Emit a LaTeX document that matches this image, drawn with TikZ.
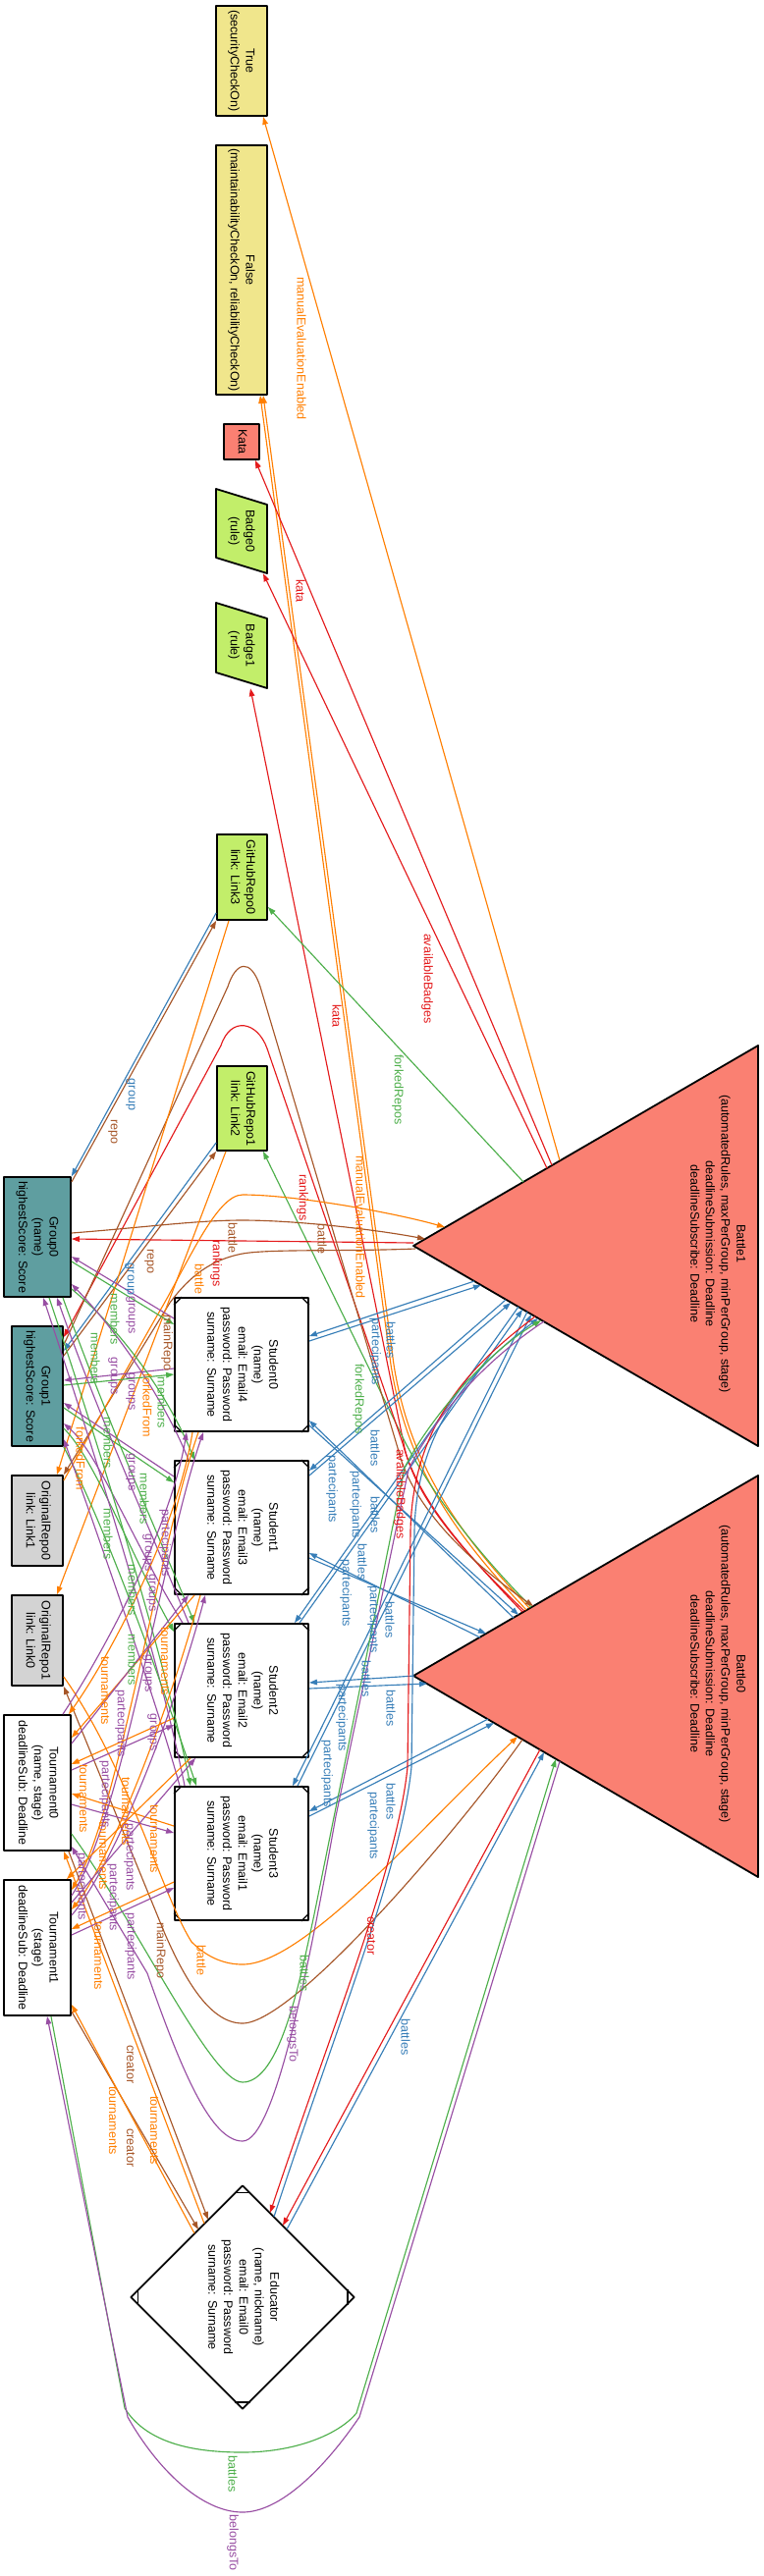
\documentclass[tikz,border=0pt]{standalone}
\usepackage{fontspec}
\setmainfont{Liberation Sans}
\usepackage{graphicx}
\usetikzlibrary{arrows.meta,shapes.geometric}
\definecolor{cR}{HTML}{E41A1C}
\definecolor{cB}{HTML}{377EB8}
\definecolor{cG}{HTML}{4DAF4A}
\definecolor{cP}{HTML}{984EA3}
\definecolor{cO}{HTML}{FF7F00}
\definecolor{cN}{HTML}{A65628}
\definecolor{cKh}{HTML}{F0E68C}
\definecolor{cSal}{HTML}{FA8072}
\definecolor{cLG}{HTML}{C2EE6A}
\definecolor{cTeal}{HTML}{5F9EA0}
\definecolor{cGr}{HTML}{D3D3D3}
\newcommand\nf{\fontsize{9.4}{11.8}\selectfont}
\newcommand\rtx[1]{\rotatebox{-90}{\begin{tabular}{@{}c@{}}#1\end{tabular}}}
\newcounter{labc}
\newcommand\elab[3]{\stepcounter{labc}\node[lbl,text=#1] (L\the\value{labc}) at (#2) {#3};}
\newcommand\msq[1]{\draw[line width=0.9pt] ([yshift=-6pt]#1.north west) -- ([xshift=6pt]#1.north west) ([xshift=-6pt]#1.north east) -- ([yshift=-6pt]#1.north east) ([yshift=6pt]#1.south west) -- ([xshift=6pt]#1.south west) ([xshift=-6pt]#1.south east) -- ([yshift=6pt]#1.south east);}
\begin{document}
\begin{tikzpicture}[x=0.75pt,y=-0.75pt,line join=round,
  nd/.style={draw=black,line width=1.35pt,inner sep=0pt,font=\nf},
  lbl/.style={rotate=-90,inner sep=0pt,font=\nf},
  tipA/.style={-{Triangle[length=6pt,width=4.2pt]}},
  eR/.style={draw=cR,line width=0.85pt,tipA},
  eB/.style={draw=cB,line width=0.85pt,tipA},
  eG/.style={draw=cG,line width=0.85pt,tipA},
  eP/.style={draw=cP,line width=0.85pt,tipA},
  eO/.style={draw=cO,line width=0.85pt,tipA},
  eN/.style={draw=cN,line width=0.85pt,tipA}]
\fill[white] (0,0) rectangle (778,2624);
\useasboundingbox (0,0) rectangle (778,2624);
% ---------- nodes
\node[nd,fill=cKh,minimum width=39pt,minimum height=84pt] (tru) at (246,62) {\rtx{True\\(securityCheckOn)}};
\node[nd,fill=cKh,minimum width=39pt,minimum height=190.5pt] (fal) at (246,275) {\rtx{False\\(maintainabilityCheckOn, reliabilityCheckOn)}};
\node[nd,fill=cSal,minimum width=27pt,minimum height=27pt] (kata) at (246,450) {\rtx{Kata}};
\filldraw[fill=cLG,draw=black,line width=1.35pt] (220,498) -- (272,514) -- (272,584) -- (220,568) -- cycle;
\node[inner sep=0pt,font=\nf,minimum width=39pt,minimum height=64.5pt] (bd0) at (246,541) {\rtx{Badge0\\(rule)}};
\filldraw[fill=cLG,draw=black,line width=1.35pt] (220,614) -- (272,630) -- (272,701) -- (220,685) -- cycle;
\node[inner sep=0pt,font=\nf,minimum width=39pt,minimum height=65.25pt] (bd1) at (246,657.5) {\rtx{Badge1\\(rule)}};
\node[nd,fill=cLG,minimum width=38.25pt,minimum height=65.25pt] (gh0) at (246.5,893.5) {\rtx{GitHubRepo0\\link: Link3}};
\node[nd,fill=cLG,minimum width=38.25pt,minimum height=64.5pt] (gh1) at (246.5,1129) {\rtx{GitHubRepo1\\link: Link2}};
\node[nd,fill=cTeal,minimum width=51pt,minimum height=91.5pt] (g0) at (38,1260) {\rtx{Group0\\(name)\\highestScore: Score}};
\node[nd,fill=cTeal,minimum width=39pt,minimum height=91.5pt] (g1) at (38,1412) {\rtx{Group1\\highestScore: Score}};
\node[nd,fill=white,minimum width=102pt,minimum height=102pt] (s0) at (246,1390) {\rtx{Student0\\(name)\\email: Email4\\password: Password\\surname: Surname}};
\node[nd,fill=white,minimum width=102pt,minimum height=102pt] (s1) at (246,1556) {\rtx{Student1\\(name)\\email: Email3\\password: Password\\surname: Surname}};
\node[nd,fill=white,minimum width=102pt,minimum height=102pt] (s2) at (246,1722) {\rtx{Student2\\(name)\\email: Email2\\password: Password\\surname: Surname}};
\node[nd,fill=white,minimum width=102pt,minimum height=102pt] (s3) at (246,1888) {\rtx{Student3\\(name)\\email: Email1\\password: Password\\surname: Surname}};
\msq{s0}\msq{s1}\msq{s2}\msq{s3}
\node[nd,fill=cGr,minimum width=39pt,minimum height=69pt] (or0) at (38,1549) {\rtx{OriginalRepo0\\link: Link1}};
\node[nd,fill=cGr,minimum width=39pt,minimum height=69pt] (or1) at (38,1671) {\rtx{OriginalRepo1\\link: Link0}};
\node[nd,fill=white,minimum width=51pt,minimum height=103.5pt] (t0) at (38,1816) {\rtx{Tournament0\\(name, stage)\\deadlineSub: Deadline}};
\node[nd,fill=white,minimum width=51pt,minimum height=103.5pt] (t1) at (38,1984) {\rtx{Tournament1\\(stage)\\deadlineSub: Deadline}};
\node[nd,diamond,fill=white,minimum width=171pt,minimum height=171pt] (edu) at (247,2340) {\rtx{Educator\\(name, nickname)\\email: Email0\\password: Password\\surname: Surname}};
\draw[line width=0.9pt] ([xshift=-6pt,yshift=-6pt]edu.north) -- ([xshift=6pt,yshift=-6pt]edu.north)
  ([xshift=-6pt,yshift=6pt]edu.south) -- ([xshift=6pt,yshift=6pt]edu.south)
  ([xshift=6pt,yshift=-6pt]edu.west) -- ([xshift=6pt,yshift=6pt]edu.west)
  ([xshift=-6pt,yshift=-6pt]edu.east) -- ([xshift=-6pt,yshift=6pt]edu.east);
\filldraw[fill=cSal,draw=black,line width=1.35pt] (421,1269) -- (772,1065) -- (772,1473) -- cycle;
\node[inner sep=0pt,font=\nf] (b1) at (730,1267) {\rtx{Battle1\\(automatedRules, maxPerGroup, minPerGroup, stage)\\deadlineSubmission: Deadline\\deadlineSubscribe: Deadline}};
\filldraw[fill=cSal,draw=black,line width=1.35pt] (421,1707) -- (772,1503) -- (772,1912) -- cycle;
\node[inner sep=0pt,font=\nf] (b0) at (730,1705) {\rtx{Battle0\\(automatedRules, maxPerGroup, minPerGroup, stage)\\deadlineSubmission: Deadline\\deadlineSubscribe: Deadline}};
% ---------- attach points on triangles and diamond
\foreach \n/\x/\y in {b1tA/570/1182, b1kA/562/1187, b1bA/557/1190, b1gA/533/1204, b1oA/453/1250, b1nA/433/1262, b1r/421/1266, b1m/423/1272,
 b1s0a/483/1305, b1s0b/490/1309, b1s1a/515/1324, b1s1b/520/1327, b1s2a/528/1331, b1s2b/532/1334, b1s3a/537/1336, b1s3b/541/1339,
 b1ea/545/1341, b1eb/548/1343, b1ta/551/1345, b1tb/554/1346,
 b0r/532/1642, b0k/534/1641, b0f1/536/1640, b0f2/539/1638, b0g/541/1637, b0n/543/1636,
 b0s0a/523/1648, b0s0b/528/1645, b0s1a/489/1668, b0s1b/495/1664, b0s2a/422/1707, b0s2b/435/1715, b0s3a/497/1751, b0s3b/503/1755,
 b0oL/527/1769, b0nL/532/1772, b0ea/550/1782, b0eb/554/1785, b0ta/566/1792, b0tb/570/1794,
 e275/275/2254, e279/279/2258, e288/288/2267, e292/292/2271, u212/212/2261, u208/208/2265, u202/202/2271, u198/198/2275}
 {\coordinate (\n) at (\x,\y);}
% ---------- top edges
\draw[eO] (b1tA) -- (tru.south -| 268,0);
\draw[eO] (b0f1) .. controls (470,1570) and (415,1500) .. (398,1390) -- (fal.south -| 265,0);
\draw[eO] (b0f2) .. controls (473,1568) and (418,1498) .. (401,1390) -- (fal.south -| 268,0);
\draw[eR] (b1kA) -- (kata.south -| 260,0);
\draw[eR] (b1bA) -- (bd0.south -| 268,0);
\draw[eR] (b0k) .. controls (465,1575) and (420,1520) .. (411,1470) -- (bd1.south -| 255,0);
\draw[eG] (b1gA) -- (gh0.east |- 0,924);
\draw[eG] (b0g) .. controls (480,1575) and (440,1520) .. (413,1470) -- (gh1.south -| 268,0);
\draw[eB] (gh0.west |- 0,930) -- (g0.north east);
\draw[eN] (g0.east |- 0,1204) -- (gh0.south west);
\draw[eB] (gh1.west |- 0,1164) -- (g1.east |- 0,1376);
\draw[eN] (g1.east |- 0,1381) -- (gh1.south west);
\draw[eR] (b1r) -- (g0.east |- 0,1262);
\draw[eR] (b0r) .. controls (465,1572) and (425,1525) .. (410,1470) -- (272,1068) .. controls (262,1040) and (235,1035) .. (225,1065) -- (g1.east |- 0,1362);
\draw[eN] (g1.east |- 0,1370) -- (232,1005) .. controls (240,980) and (255,975) .. (265,1005) -- (405,1475) .. controls (418,1530) and (470,1585) .. (b0n);
\draw[eN] (g0.east |- 0,1256) .. controls (150,1250) and (200,1243) .. (247,1243) .. controls (300,1243) and (380,1252) .. (b1nA);
\draw[eN] (b1m) .. controls (350,1275) and (275,1272) .. (247,1277) .. controls (215,1283) and (193,1300) .. (173,1327) -- (or0.north east);
\draw[eO] (or0.east |- 0,1508) -- (160,1340) .. controls (190,1290) and (220,1217) .. (247,1217) .. controls (300,1217) and (400,1235) .. (b1oA);
\draw[eO] (or1.east |- 0,1708) .. controls (130,1800) and (165,1930) .. (195,1978) .. controls (212,1995) and (230,2001) .. (247,2001) .. controls (310,2001) and (430,1860) .. (b0oL);
\draw[eN] (b0nL) .. controls (470,1860) and (300,2061) .. (247,2061) .. controls (215,2061) and (190,2020) .. (168,1970) -- (or1.south east);
\draw[eO] (gh0.south -| 233,0) -- (or0.north -| 58,0);
\draw[eO] (gh1.south -| 230,0) -- (or1.north -| 58,0);
% ---------- student - battle
\draw[eB] (s0.east |- 0,1366) -- (b1s0b);
\draw[eB] (b1s0a) -- (s0.east |- 0,1361);
\draw[eB] (s1.east |- 0,1503) -- (b1s1b);
\draw[eB] (b1s1a) -- (s1.east |- 0,1498);
\draw[eB] (s2.north -| 305,0) -- (b1s2b);
\draw[eB] (b1s2a) -- (s2.north -| 300,0);
\draw[eB] (s3.north -| 303,0) -- (b1s3b);
\draw[eB] (b1s3a) -- (s3.north -| 298,0);
\draw[eB] (s0.east |- 0,1452) -- (b0s0b);
\draw[eB] (b0s0a) -- (s0.east |- 0,1447);
\draw[eB] (s1.east |- 0,1587) -- (b0s1b);
\draw[eB] (b0s1a) -- (s1.east |- 0,1582);
\draw[eB] (s2.east |- 0,1720) -- (b0s2b);
\draw[eB] (b0s2a) -- (s2.east |- 0,1714);
\draw[eB] (s3.east |- 0,1850) -- (b0s3b);
\draw[eB] (b0s3a) -- (s3.east |- 0,1845);
% ---------- educator - battle
\draw[eR] (b0ea) -- (e288);
\draw[eB] (e292) -- (b0eb);
\draw[eR] (b1ea) .. controls (480,1390) and (420,1450) .. (418,1560) -- (415,1800) .. controls (405,1900) and (340,2060) .. (e275);
\draw[eB] (e279) .. controls (344,2060) and (409,1900) .. (419,1800) -- (422,1560) .. controls (424,1452) and (484,1392) .. (b1eb);
% ---------- tournament - battle
\draw[eG] (t0.east |- 0,1868) .. controls (140,1960) and (215,2121) .. (247,2121) .. controls (285,2121) and (305,2020) .. (320,1950) -- (412,1495) .. controls (440,1440) and (500,1375) .. (b1ta);
\draw[eP] (b1tb) .. controls (495,1385) and (443,1442) .. (416,1497) -- (342,1850) .. controls (315,2000) and (280,2181) .. (247,2181) .. controls (215,2181) and (185,2110) .. (150,2010) -- (t0.east |- 0,1881);
\draw[eG] (t1.south -| 52,0) -- (127,2453) .. controls (150,2490) and (200,2498) .. (247,2498) .. controls (300,2498) and (345,2480) .. (363,2458) -- (b0ta);
\draw[eP] (b0tb) -- (366,2462) .. controls (330,2515) and (285,2559) .. (247,2559) .. controls (205,2559) and (160,2515) .. (130,2462) -- (t1.south -| 48,0);
% ---------- tournament - educator
\draw[eN] (t0.south -| 70,0) -- (u212);
\draw[eO] (u208) -- (t0.south -| 65,0);
\draw[eN] (t1.east |- 0,2049) -- (u202);
\draw[eO] (u198) -- (t1.east |- 0,2042);
% ---------- group - student
\draw[eG] (g0.east |- 0,1285) -- (s0.west |- 0,1349);
\draw[eP] (s0.west |- 0,1343) -- (g0.east |- 0,1280);
\draw[eP] (s0.west |- 0,1394) -- (g1.east |- 0,1406);
\draw[eG] (g1.east |- 0,1411) -- (s0.west |- 0,1400);
\draw[eG] (g0.east |- 0,1313) .. controls (130,1360) and (175,1430) .. (s1.north -| 198,0);
\draw[eP] (s1.north -| 192,0) .. controls (170,1432) and (125,1362) .. (g0.east |- 0,1308);
\draw[eP] (s1.west |- 0,1504) -- (g1.east |- 0,1429);
\draw[eG] (g1.east |- 0,1434) -- (s1.west |- 0,1510);
\draw[eG] (g0.south -| 64,0) .. controls (110,1450) and (160,1560) .. (s2.north -| 198,0);
\draw[eP] (s2.north -| 192,0) .. controls (155,1562) and (104,1452) .. (g0.south -| 58,0);
\draw[eP] (s2.north -| 186,0) .. controls (140,1580) and (100,1480) .. (g1.east |- 0,1450);
\draw[eG] (g1.east |- 0,1455) .. controls (96,1485) and (134,1585) .. (s2.west |- 0,1662);
\draw[eG] (g0.south -| 50,0) .. controls (110,1500) and (170,1700) .. (s3.north -| 194,0);
\draw[eP] (s3.north -| 188,0) .. controls (165,1702) and (104,1502) .. (g0.south -| 44,0);
\draw[eG] (g1.south east) .. controls (110,1560) and (170,1730) .. (s3.north -| 200,0);
\draw[eP] (s3.north -| 183,0) .. controls (160,1735) and (100,1565) .. (g1.east |- 0,1466);
% ---------- student - tournament
\draw[eO] (s0.south -| 196,0) .. controls (180,1560) and (110,1690) .. (t0.north -| 70,0);
\draw[eP] (t0.north -| 64,0) .. controls (104,1686) and (174,1556) .. (s0.south -| 190,0);
\draw[eO] (s1.south -| 198,0) -- (t0.east |- 0,1770);
\draw[eP] (t0.east |- 0,1776) -- (s1.south -| 192,0);
\draw[eO] (s2.west |- 0,1750) -- (t0.east |- 0,1797);
\draw[eP] (t0.east |- 0,1803) -- (s2.west |- 0,1757);
\draw[eO] (s3.west |- 0,1860) -- (t0.east |- 0,1827);
\draw[eP] (t0.east |- 0,1838) -- (s3.west |- 0,1867);
\draw[eO] (s0.south -| 202,0) .. controls (160,1580) and (120,1850) .. (t1.east |- 0,1925);
\draw[eP] (t1.east |- 0,1931) .. controls (125,1852) and (165,1582) .. (s0.south -| 207,0);
\draw[eO] (s1.south -| 204,0) .. controls (170,1750) and (110,1900) .. (t1.east |- 0,1945);
\draw[eP] (t1.east |- 0,1951) .. controls (115,1902) and (175,1752) .. (s1.south -| 209,0);
\draw[eO] (s2.south -| 194,0) -- (t1.north -| 68,0);
\draw[eP] (t1.east |- 0,1938) -- (s2.south -| 199,0);
\draw[eO] (s3.west |- 0,1917) -- (t1.east |- 0,1965);
\draw[eP] (t1.east |- 0,1971) -- (s3.west |- 0,1923);
% ---------- labels
\elab{cO}{307,355}{manualEvaluationEnabled}
\elab{cO}{367,1250}{manualEvaluationEnabled}
\elab{cO}{203,1303}{battle}
\elab{cO}{205,1997}{battle}
\elab{cO}{150,1432}{forkedFrom}
\elab{cO}{82,1486}{forkedFrom}
\elab{cO}{168,1692}{tournaments}
\elab{cO}{107,1722}{tournaments}
\elab{cO}{85,1832}{tournaments}
\elab{cO}{128,1845}{tournaments}
\elab{cO}{157,1873}{tournaments}
\elab{cO}{105,1890}{tournaments}
\elab{cO}{100,1992}{tournaments}
\elab{cO}{115,2160}{tournaments}
\elab{cO}{157,2170}{tournaments}
\elab{cR}{306,602}{kata}
\elab{cR}{343,1035}{kata}
\elab{cR}{435,997}{availableBadges}
\elab{cR}{407,1522}{availableBadges}
\elab{cR}{308,1220}{rankings}
\elab{cR}{220,1287}{rankings}
\elab{cR}{378,1972}{creator}
\elab{cB}{133,1115}{group}
\elab{cB}{132,1303}{group}
\elab{cB}{398,1365}{battles}
\elab{cB}{382,1377}{partecipants}
\elab{cB}{382,1475}{battles}
\elab{cB}{338,1517}{partecipants}
\elab{cB}{362,1533}{partecipants}
\elab{cB}{382,1543}{battles}
\elab{cB}{369,1591}{battles}
\elab{cB}{352,1623}{partecipants}
\elab{cB}{380,1650}{partecipants}
\elab{cB}{397,1650}{battles}
\elab{cB}{373,1710}{battles}
\elab{cB}{398,1740}{battles}
\elab{cB}{348,1750}{partecipants}
\elab{cB}{333,1807}{partecipants}
\elab{cB}{398,1835}{battles}
\elab{cB}{380,1860}{partecipants}
\elab{cB}{413,2075}{battles}
\elab{cG}{405,1110}{forkedRepos}
\elab{cG}{365,1425}{forkedRepos}
\elab{cG}{117,1344}{members}
\elab{cG}{97,1384}{members}
\elab{cG}{165,1429}{members}
\elab{cG}{110,1470}{members}
\elab{cG}{147,1527}{members}
\elab{cG}{110,1563}{members}
\elab{cG}{135,1620}{members}
\elab{cG}{135,1691}{members}
\elab{cG}{310,2010}{battles}
\elab{cG}{237,2520}{battles}
\elab{cP}{133,1340}{groups}
\elab{cP}{115,1402}{groups}
\elab{cP}{133,1418}{groups}
\elab{cP}{133,1500}{groups}
\elab{cP}{150,1582}{groups}
\elab{cP}{154,1623}{groups}
\elab{cP}{150,1705}{groups}
\elab{cP}{155,1765}{groups}
\elab{cP}{168,1572}{partecipants}
\elab{cP}{123,1756}{partecipants}
\elab{cP}{107,1828}{partecipants}
\elab{cP}{132,1892}{partecipants}
\elab{cP}{83,1922}{partecipants}
\elab{cP}{115,1933}{partecipants}
\elab{cP}{133,1983}{partecipants}
\elab{cP}{298,2072}{belongsTo}
\elab{cP}{237,2590}{belongsTo}
\elab{cN}{115,1153}{repo}
\elab{cN}{152,1285}{repo}
\elab{cN}{237,1261}{battle}
\elab{cN}{328,1262}{battle}
\elab{cN}{170,1368}{mainRepo}
\elab{cN}{163,1987}{mainRepo}
\elab{cN}{133,2103}{creator}
\elab{cN}{133,2188}{creator}
\end{tikzpicture}
\end{document}
